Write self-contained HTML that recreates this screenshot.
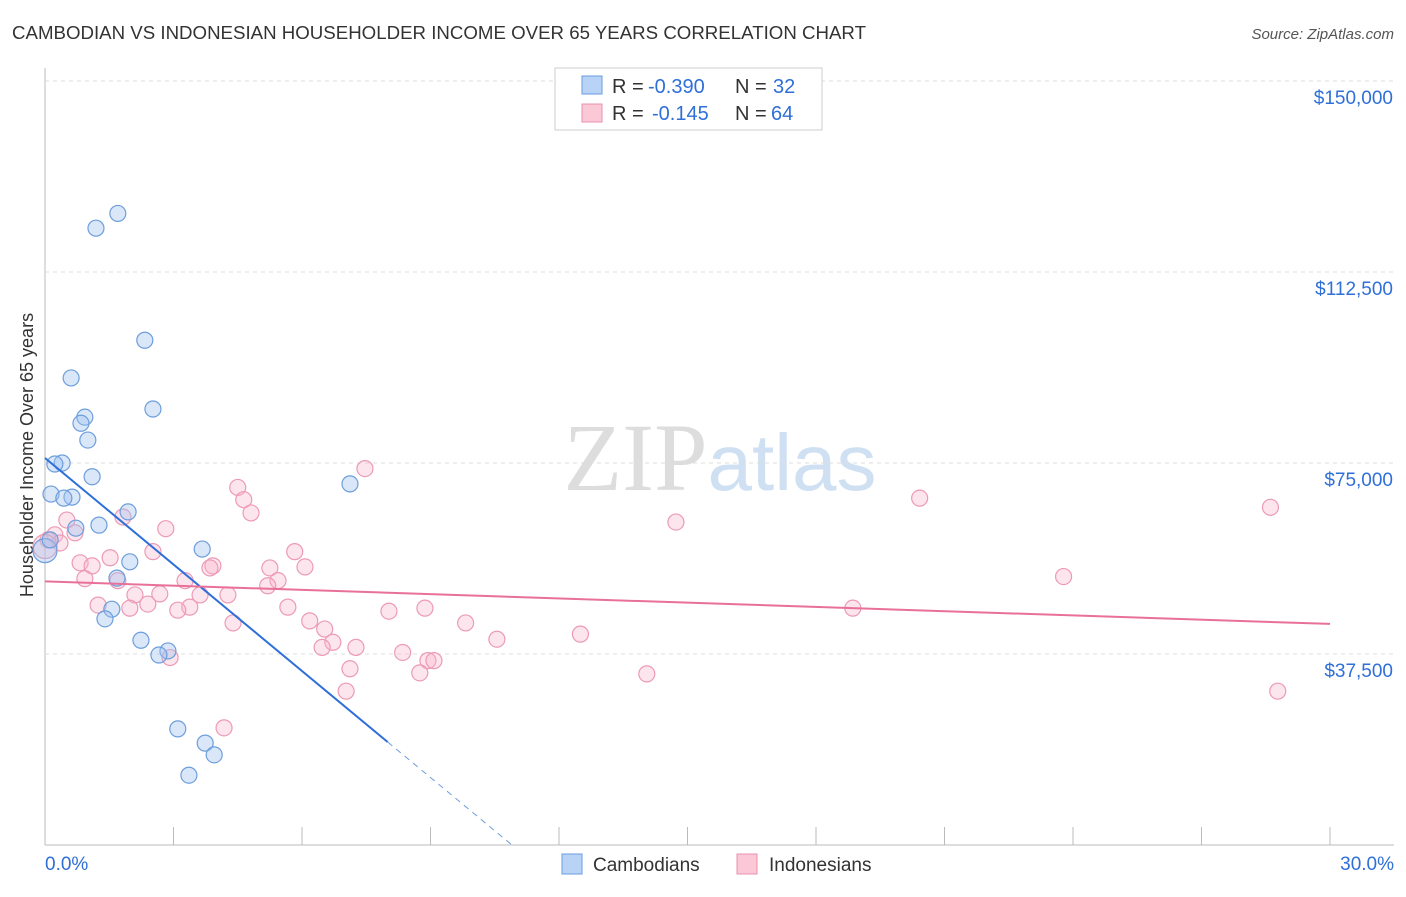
<!DOCTYPE html>
<html><head><meta charset="utf-8"><style>
body{margin:0;background:#fff;font-family:"Liberation Sans",sans-serif;}
</style></head><body>
<svg width="1406" height="892" xmlns="http://www.w3.org/2000/svg" id="chart">
<text x="12" y="39" font-size="18" fill="#333" textLength="854" lengthAdjust="spacingAndGlyphs">CAMBODIAN VS INDONESIAN HOUSEHOLDER INCOME OVER 65 YEARS CORRELATION CHART</text>
<text x="1394" y="39" font-size="15" fill="#555" text-anchor="end" font-style="italic">Source: ZipAtlas.com</text>
<text x="720" y="490" font-size="96" fill="#ddd" text-anchor="middle" font-family="Liberation Serif">ZIP<tspan fill="#cfe0f3" font-family="Liberation Sans" font-size="80">atlas</tspan></text>
<text transform="translate(33,455) rotate(-90)" font-size="18" fill="#333" text-anchor="middle">Householder Income Over 65 years</text>
<g id="grid"></g><g id="pts"></g><g id="lines"></g>
<g>
<rect x="555" y="68" width="267" height="62" fill="#fff" stroke="#ccc"/>
<rect x="582" y="76" width="20" height="18" fill="#b8d3f5" stroke="#6a9de0"/>
<rect x="582" y="104" width="20" height="18" fill="#fbc8d8" stroke="#e890ad"/>
<g font-size="20" fill="#333">
<text x="612" y="93">R =</text><text x="648" y="93" fill="#2f6fd8">-0.390</text>
<text x="735" y="93">N =</text><text x="773" y="93" fill="#2f6fd8">32</text>
<text x="612" y="120">R =</text><text x="652" y="120" fill="#2f6fd8">-0.145</text>
<text x="735" y="120">N =</text><text x="771" y="120" fill="#2f6fd8">64</text>
</g>
</g>
<g>
<rect x="562" y="854" width="20" height="20" fill="#b8d3f5" stroke="#6a9de0"/>
<text x="593" y="871" font-size="19" fill="#333">Cambodians</text>
<rect x="737" y="854" width="20" height="20" fill="#fbc8d8" stroke="#e890ad"/>
<text x="769" y="871" font-size="19" fill="#333">Indonesians</text>
</g>
</svg>
<script>
const yTicks=[37500,75000,112500,150000];
const yTickLabels=["$37,500","$75,000","$112,500","$150,000"];
const xTickLabels=["0.0%","30.0%"];
const cambX=[0,1.70,1.19,2.33,0.61,2.52,0.93,0.84,1.00,0.40,0.23,1.10,0.14,0.63,0.44,1.94,1.26,0.72,3.67,1.98,1.68,1.56,1.40,2.24,2.87,2.66,7.12,3.10,3.74,3.95,3.36,0.12];
const cambY=[57800,124000,121100,99100,91700,85600,84000,82800,79500,75000,74800,72300,68900,68300,68100,65400,62800,62200,58100,55600,52400,46300,44400,40200,38100,37300,70900,22800,20000,17700,13700,59900];
const indoX=[7.47,4.5,4.64,4.81,2.82,1.82,0.51,0.7,0.23,0.07,0.35,2.52,1.52,0.82,1.1,5.83,5.25,6.07,3.92,3.85,0.93,1.7,3.27,5.44,5.2,2.1,2.68,3.62,4.27,1.24,1.98,2.4,3.38,3.1,5.67,8.03,8.87,9.82,6.18,4.39,6.53,6.72,6.47,7.26,10.55,12.5,8.35,8.94,9.08,2.92,7.12,8.75,7.03,14.05,4.18,14.73,20.42,23.78,18.86,28.61,28.78,0];
const indoY=[73900,70200,67800,65200,62100,64400,63800,61300,60900,59900,59300,57600,56400,55400,54800,57600,54400,54600,54800,54400,52300,51900,51900,51900,50900,49100,49300,49100,49100,47100,46500,47300,46700,46100,46700,45900,46500,43600,44000,43600,42400,39800,38800,38800,40400,41400,37800,36200,36200,36800,34600,33800,30200,33600,23000,63400,68100,52700,46500,66300,30200,58600];
const cambTrend=[75980,-6970];
const xMin=0,xMax=30,x0=45,x1=1330,yBase=845,pxPerUnit=191/37500;
const sx=v=>x0+(v-xMin)/(xMax-xMin)*(x1-x0);
const sy=v=>yBase-v*pxPerUnit;
const NS="http://www.w3.org/2000/svg";
function mk(t,a,p){const e=document.createElementNS(NS,t);for(const k in a)e.setAttribute(k,a[k]);p.appendChild(e);return e;}
const grid=document.getElementById('grid');
const ax=mk('line',{x1:45,y1:68,x2:45,y2:845,stroke:'#bbb'},grid);

const bx=mk('line',{x1:45,y1:845,x2:1394,y2:845,stroke:'#bbb'},grid);

yTicks.forEach((v,i)=>{
  const g=mk('line',{x1:45,x2:1394,y1:sy(v),y2:sy(v),stroke:'#ddd','stroke-dasharray':'4,4'},grid);
  
  const t=mk('text',{x:1393,y:sy(v)+23,'font-size':19,fill:'#2f6fd8','text-anchor':'end'},grid);
  t.textContent=yTickLabels[i];
  
});
for(let i=0;i<=10;i++){const x=sx(i*3);
  const tk=mk('line',{x1:x,x2:x,y1:827,y2:845,stroke:'#bbb'},grid);
  }
[[0,'start',45],[30,'end',1394]].forEach((d,i)=>{
  const t=mk('text',{x:d[2],y:870,'font-size':19,fill:'#2f6fd8','text-anchor':d[1]},grid);
  t.textContent=xTickLabels[i];
  });
const pts=document.getElementById('pts');
indoX.forEach((x,i)=>{const c=mk('circle',{cx:sx(x),cy:sy(indoY[i]),r:i==indoX.length-1?12:8,fill:'rgba(248,180,202,0.35)',stroke:'#ec9ab5','stroke-width':1.2},pts);
  });
cambX.forEach((x,i)=>{const c=mk('circle',{cx:sx(x),cy:sy(cambY[i]),r:i==0?12:8,fill:'rgba(160,196,240,0.4)',stroke:'#6d9edc','stroke-width':1.2},pts);
  });
function fit(X,Y){const n=X.length;let mx=0,my=0;X.forEach((v,i)=>{mx+=v;my+=Y[i];});mx/=n;my/=n;let a=0,b=0;X.forEach((v,i)=>{a+=(v-mx)*(Y[i]-my);b+=(v-mx)*(v-mx);});const s=a/b;return[s,my-s*mx];}
const L=document.getElementById('lines');
const ci=cambTrend[0],cs=cambTrend[1];
const cEnd=8;const cZero=-ci/cs;
let l=mk('line',{x1:sx(0),y1:sy(ci),x2:sx(cEnd),y2:sy(ci+cs*cEnd),stroke:'#2f6fd8','stroke-width':2},L);

l=mk('line',{x1:sx(cEnd),y1:sy(ci+cs*cEnd),x2:sx(cZero),y2:sy(0),stroke:'#6d9edc','stroke-width':1,'stroke-dasharray':'6,5'},L);

const [is,ii]=fit(indoX,indoY);
l=mk('line',{x1:sx(0),y1:sy(ii),x2:sx(30),y2:sy(ii+is*30),stroke:'#e8709a','stroke-width':2},L);

</script>
</body></html>
